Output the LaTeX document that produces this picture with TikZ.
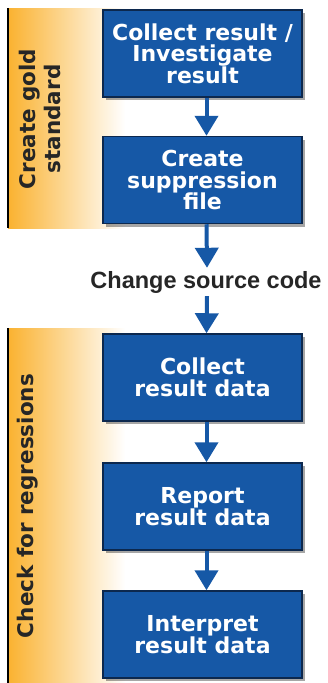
\documentclass[tikz,border=0pt]{standalone}
\usepackage{fontspec}
\setmainfont{DejaVu Sans}
\newfontfamily\captionfont{Liberation Sans}
\usetikzlibrary{arrows.meta, shadows}

\definecolor{boxblue}{RGB}{22,88,166}
\definecolor{boxedge}{RGB}{12,40,78}
\definecolor{bandorange}{RGB}{250,178,48}
\definecolor{labelgray}{RGB}{38,38,38}

\tikzset{
  stepbox/.style={draw=boxedge, line width=1.5pt, fill=boxblue,
    minimum width=199pt, minimum height=87pt, inner sep=2pt,
    text=white, align=center,
    font=\fontsize{22}{21.5}\selectfont\bfseries,
    drop shadow={shadow xshift=3pt, shadow yshift=-3pt, fill=black, opacity=.35}},
  flow/.style={draw=boxblue, line width=4pt,
    -{Triangle[width=23pt, length=20pt]}},
  bandtext/.style={rotate=90, align=center, text=labelgray,
    font=\fontsize{21.5}{25}\selectfont\bfseries}
}

\begin{document}
\begin{tikzpicture}[x=1pt, y=-1pt]

  \useasboundingbox (0,0) rectangle (328,683);

  % --- CONFIGURAÇÕES ---
  % centro horizontal das caixas
  \def\cx{202.5}

  % --- FAIXAS LATERAIS (degradê laranja) ---
  \fill[left color=bandorange, right color=white] (8,8) rectangle (125,228);
  \fill[left color=bandorange, right color=white] (8,328) rectangle (125,683);
  \draw[black, line width=1.5pt] (8,8) -- (8,228);
  \draw[black, line width=1.5pt] (8,328) -- (8,683);

  \node[bandtext] (gold) at (40,119) {Create gold\\standard};
  \node[bandtext] (regr) at (28,506) {Check for regressions};

  % --- CAIXAS ---
  \node[stepbox] (b1) at (\cx, 53.5) {Collect result /\\Investigate\\result};
  \node[stepbox] (b2) at (\cx, 180) {Create\\suppression\\file};

  \node[inner sep=3pt, text=labelgray,
        font=\captionfont\fontsize{23.5}{24}\selectfont\bfseries]
        (chg) at (206, 282) {Change source code};

  \node[stepbox] (b3) at (\cx, 377.5) {Collect\\result data};
  \node[stepbox] (b4) at (\cx, 506.5) {Report\\result data};
  \node[stepbox] (b5) at (\cx, 634.5) {Interpret\\result data};

  % --- SETAS ---
  \foreach \a/\b in {b1/b2, b3/b4, b4/b5} {
    \draw[flow] ([xshift=4pt]\a.south) -- ([xshift=4pt]\b.north);
  }
  \draw[flow] ([xshift=4pt]b2.south) -- ([xshift=1pt]chg.north);
  \draw[flow] ([xshift=1pt]chg.south) -- ([xshift=4pt]b3.north);

\end{tikzpicture}
\end{document}
